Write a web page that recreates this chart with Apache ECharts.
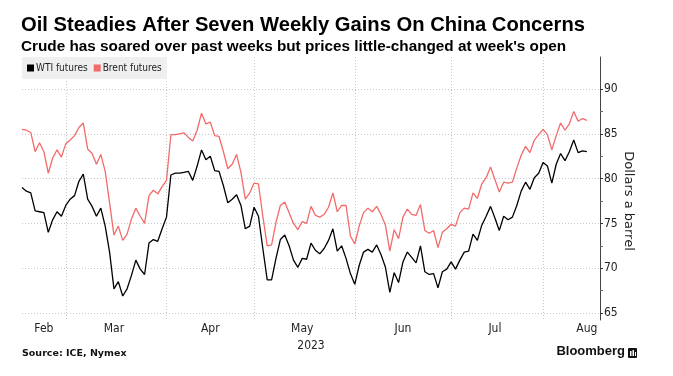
<!DOCTYPE html>
<html>
<head>
<meta charset="utf-8">
<script src="https://cdn.jsdelivr.net/npm/echarts@6/dist/echarts.min.js"></script>
<style>
  html, body { margin: 0; padding: 0; background: #fff; }
  #chart { width: 673px; height: 376px; }
</style>
</head>
<body>
<div id="chart"></div>
<script>
// trading days from 15 Feb 2023, weekdays only (3 empty slots pad the right edge)
const startDate = '2023-02-15';
const dayCount = 133;

const wti = [
  79.0, 78.6, 78.4, 76.4, 76.3, 76.2, 74.0, 75.4, 76.3, 75.8, 77.0, 77.7, 78.1, 79.7, 80.5, 77.7, 76.9, 75.8, 76.7, 74.7, 71.8, 67.7, 68.5, 66.9, 67.7, 69.2, 70.9,
  69.9, 69.3, 72.8, 73.2, 73.0, 74.4, 75.7, 80.4, 80.6, 80.6, 80.7, 80.8, 79.8, 81.4, 83.2, 82.1, 82.5, 80.9, 80.8, 79.2, 77.3, 77.7, 78.2, 77.0, 74.4, 74.7, 76.8,
  75.8, 72.2, 68.7, 68.7, 71.1, 73.2, 73.7, 72.5, 70.9, 70.1, 71.1, 71.0, 72.8, 72.0, 71.6, 72.2, 73.1, 74.4, 71.9, 72.5, 71.1, 69.4, 68.2, 70.3, 71.8, 72.1,
  71.8, 72.6, 71.5, 70.1, 67.3, 69.5, 68.4, 70.7, 71.8, 71.2, 70.6, 72.5, 69.6, 69.3, 69.4, 67.8, 69.6, 69.9, 70.7, 69.9, 70.9, 71.8, 71.9, 73.8, 73.1, 74.8, 75.8,
  76.9, 75.6, 74.2, 75.8, 75.4, 75.7, 77.0, 78.6, 79.6, 78.8, 80.1, 80.6, 81.8, 81.4, 79.5, 81.6, 82.8, 82.0, 83.0, 84.3, 82.9, 83.1, 83.0
];

const brent = [
  85.5, 85.4, 85.15, 83.0, 84.0, 83.0, 80.6, 82.3, 83.2, 82.4, 83.9, 84.3, 84.8, 85.7, 86.2, 83.3, 82.8, 81.6, 82.7, 80.8, 77.3, 73.7, 74.7, 73.1, 73.8, 75.5, 76.7,
  75.8, 75.0, 78.1, 78.7, 78.3, 79.1, 79.8, 84.9, 84.9, 85.0, 85.1, 84.6, 84.2, 85.4, 87.3, 86.1, 86.3, 84.8, 84.7, 83.0, 81.1, 81.6, 82.7, 80.7, 77.7, 78.4, 79.5,
  79.4, 75.8, 72.5, 72.6, 75.1, 77.0, 77.4, 76.2, 75.0, 74.3, 75.2, 75.0, 76.9, 75.9, 75.7, 76.0, 76.8, 78.4, 76.3, 77.0, 77.0, 73.6, 72.7, 74.7, 76.2, 76.7,
  76.3, 76.9, 76.0, 74.8, 71.9, 74.3, 73.3, 75.7, 76.6, 76.0, 75.9, 77.1, 74.2, 73.9, 74.2, 72.3, 74.0, 74.4, 74.9, 74.7, 76.2, 76.7, 76.6, 78.4, 77.8, 79.4, 80.1,
  81.3, 79.9, 78.5, 79.6, 79.5, 79.6, 81.2, 82.6, 83.6, 82.9, 84.3, 84.9, 85.5, 84.9, 83.2, 84.8, 86.2, 85.4, 86.1, 87.5, 86.4, 86.7, 86.5
];

const monthNames = ['Jan', 'Feb', 'Mar', 'Apr', 'May', 'Jun', 'Jul', 'Aug', 'Sep', 'Oct', 'Nov', 'Dec'];
// where each month name sits on the axis (trading day index)
const monthLabelIdx = [5, 21, 43, 64, 87, 108, 129];
const yTicks = [65, 70, 75, 80, 85, 90];

function weekdays(start, n) {
  const out = [];
  const d = new Date(start + 'T00:00:00Z');
  while (out.length < n) {
    const wd = d.getUTCDay();
    if (wd !== 0 && wd !== 6) out.push(d.toISOString().slice(0, 10));
    d.setUTCDate(d.getUTCDate() + 1);
  }
  return out;
}

const dates = weekdays(startDate, dayCount);
// first trading day of each month -> vertical grid line
const monthStarts = dates.map((d, i) => i > 0 && d.slice(5, 7) !== dates[i - 1].slice(5, 7));

const narrow = "'Liberation Sans Narrow', 'DejaVu Sans Condensed', 'Liberation Sans', sans-serif";
const dotted = { color: '#c8c8c8', type: [1, 2], width: 1 };

const chart = echarts.init(document.getElementById('chart'));

chart.setOption({
  animation: false,
  backgroundColor: '#fff',
  title: {
    left: 16,
    top: 10,
    text: 'Oil Steadies After Seven Weekly Gains On China Concerns',
    subtext: "Crude has soared over past weeks but prices little-changed at week's open",
    itemGap: 4,
    textStyle: { fontFamily: 'Liberation Sans', fontWeight: 'bold', fontSize: 20.2, color: '#000' },
    subtextStyle: { fontFamily: 'Liberation Sans', fontWeight: 'bold', fontSize: 15.3, color: '#000' }
  },
  legend: {
    left: 22,
    top: 57,
    padding: [6, 5, 6, 5],
    backgroundColor: '#efefef',
    icon: 'rect',
    itemWidth: 7,
    itemHeight: 7,
    itemGap: 6,
    textStyle: { fontFamily: narrow, fontSize: 10, color: '#222', padding: [0, 0, 0, -3] },
    data: ['WTI futures', 'Brent futures']
  },
  grid: [
    { left: 22, right: 73, top: 89, bottom: 63 },
    { left: 22, right: 73, top: 57, bottom: 56 }
  ],
  xAxis: [
    { type: 'category', gridIndex: 0, data: dates, boundaryGap: false, show: false },
    {
      type: 'category',
      gridIndex: 1,
      data: dates,
      boundaryGap: false,
      name: '2023',
      nameLocation: 'middle',
      nameGap: 13,
      nameTextStyle: { fontFamily: narrow, fontSize: 12, color: '#222' },
      axisLine: { show: false },
      axisTick: { show: false },
      splitLine: { show: true, interval: (i) => monthStarts[i], lineStyle: dotted },
      axisLabel: {
        interval: (i) => monthLabelIdx.includes(i),
        formatter: (v) => monthNames[+v.slice(5, 7) - 1],
        margin: 3,
        fontFamily: narrow,
        fontSize: 12,
        color: '#222'
      }
    }
  ],
  yAxis: [
    {
      type: 'value',
      gridIndex: 0,
      position: 'right',
      min: yTicks[0],
      max: yTicks[yTicks.length - 1],
      interval: 5,
      name: 'Dollars a barrel',
      nameLocation: 'middle',
      nameRotate: -90,
      nameGap: 22,
      nameMoveOverlap: false,
      nameTextStyle: { fontFamily: 'DejaVu Sans', fontSize: 13, color: '#222' },
      axisLine: { show: false },
      axisTick: { show: true, length: 3, lineStyle: { color: '#333' } },
      minorTick: { show: true, splitNumber: 2, length: 3, lineStyle: { color: '#666' } },
      splitLine: { show: true, lineStyle: dotted },
      axisLabel: { margin: 4, fontFamily: narrow, fontSize: 12, color: '#222' }
    },
    {
      type: 'value',
      gridIndex: 1,
      position: 'right',
      min: 0,
      max: 1,
      axisLine: { show: true, lineStyle: { color: '#444', width: 1 } },
      axisTick: { show: false },
      axisLabel: { show: false },
      splitLine: { show: false }
    }
  ],
  series: [
    {
      name: 'WTI futures',
      type: 'line',
      xAxisIndex: 0,
      yAxisIndex: 0,
      data: wti,
      showSymbol: false,
      color: '#000',
      lineStyle: { width: 1.3, color: '#000' }
    },
    {
      name: 'Brent futures',
      type: 'line',
      xAxisIndex: 0,
      yAxisIndex: 0,
      data: brent,
      showSymbol: false,
      color: '#f26a6a',
      lineStyle: { width: 1.3, color: '#f26a6a' }
    }
  ],
  graphic: [
    {
      type: 'text',
      left: 22,
      top: 349,
      style: { text: 'Source: ICE, Nymex', fontFamily: 'DejaVu Sans', fontWeight: 'bold', fontSize: 9.5, fill: '#111' }
    },
    {
      type: 'text',
      right: 48,
      top: 345,
      style: { text: 'Bloomberg', fontFamily: 'Liberation Sans', fontWeight: 'bold', fontSize: 13, fill: '#111' }
    },
    {
      type: 'group',
      right: 36,
      top: 348,
      children: [
        { type: 'rect', shape: { x: 0, y: 0, width: 9, height: 10, r: 1 }, style: { fill: '#111' } },
        { type: 'rect', shape: { x: 2, y: 3, width: 1.5, height: 5 }, style: { fill: '#fff' } },
        { type: 'rect', shape: { x: 4.5, y: 2, width: 1.5, height: 6 }, style: { fill: '#fff' } },
        { type: 'rect', shape: { x: 7, y: 4, width: 1, height: 4 }, style: { fill: '#fff' } }
      ]
    }
  ]
});

window.addEventListener('resize', () => chart.resize());
</script>
</body>
</html>
